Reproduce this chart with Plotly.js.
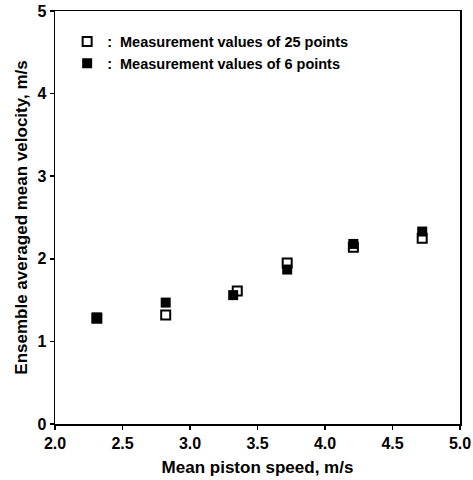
<!DOCTYPE html>
<html>
<head>
<meta charset="utf-8">
<script src="https://cdn.plot.ly/plotly-3.0.1.min.js"></script>
<style>html,body{margin:0;padding:0;background:#fff;}#chart{width:473px;height:480px;}</style>
</head>
<body>
<div id="chart"></div>
<script>
const pistonSpeed25 = [2.31, 2.82, 3.35, 3.72, 4.21, 4.72];
const velocity25 = [1.28, 1.32, 1.61, 1.95, 2.14, 2.25];
const pistonSpeed6 = [2.31, 2.82, 3.32, 3.72, 4.21, 4.72];
const velocity6 = [1.29, 1.47, 1.56, 1.87, 2.18, 2.33];
const xTicks = [2.0, 2.5, 3.0, 3.5, 4.0, 4.5, 5.0];
const xTickLabels = ["2.0", "2.5", "3.0", "3.5", "4.0", "4.5", "5.0"];
const yTicks = [0, 1, 2, 3, 4, 5];
const seriesNames = [":\u00a0\u00a0Measurement values of 25 points", ":\u00a0\u00a0Measurement values of 6 points"];

const font = "Liberation Sans, Arial, Helvetica, sans-serif";

const traces = [
  {
    x: pistonSpeed25, y: velocity25, mode: "markers", type: "scatter",
    name: seriesNames[0],
    marker: {symbol: "square-open", size: 9, color: "#000", line: {width: 2, color: "#000"}}
  },
  {
    x: pistonSpeed6, y: velocity6, mode: "markers", type: "scatter",
    name: seriesNames[1],
    marker: {symbol: "square", size: 10, color: "#000"}
  }
];

const layout = {
  width: 473, height: 480,
  margin: {l: 55, r: 13, t: 11, b: 56},
  paper_bgcolor: "#fff", plot_bgcolor: "#fff",
  font: {family: font, color: "#000"},
  showlegend: true,
  legend: {
    x: 0.03, y: 0.965, xanchor: "left", yanchor: "top",
    bgcolor: "rgba(0,0,0,0)", borderwidth: 0,
    font: {family: font, size: 14.5, color: "#000", weight: "bold"},
    tracegroupgap: 0
  },
  xaxis: {
    range: [2.0, 5.0], tickvals: xTicks, ticktext: xTickLabels,
    showgrid: false, zeroline: false,
    showline: true, linecolor: "#000", linewidth: 1.5, mirror: true,
    ticks: "outside", ticklen: 4, tickcolor: "#000", tickwidth: 1.5,
    tickfont: {family: font, size: 16, weight: "bold", color: "#000"},
    title: {text: "Mean piston speed, m/s", font: {family: font, size: 17, weight: "bold", color: "#000"}, standoff: 10}
  },
  yaxis: {
    range: [0, 5], tickvals: yTicks,
    showgrid: false, zeroline: false,
    showline: true, linecolor: "#000", linewidth: 1.5, mirror: true,
    ticks: "outside", ticklen: 4, tickcolor: "#000", tickwidth: 1.5,
    tickfont: {family: font, size: 16, weight: "bold", color: "#000"},
    title: {text: "Ensemble averaged mean velocity, m/s", font: {family: font, size: 17, weight: "bold", color: "#000"}, standoff: 5}
  }
};

Plotly.newPlot("chart", traces, layout, {displayModeBar: false, staticPlot: true});
</script>
</body>
</html>
